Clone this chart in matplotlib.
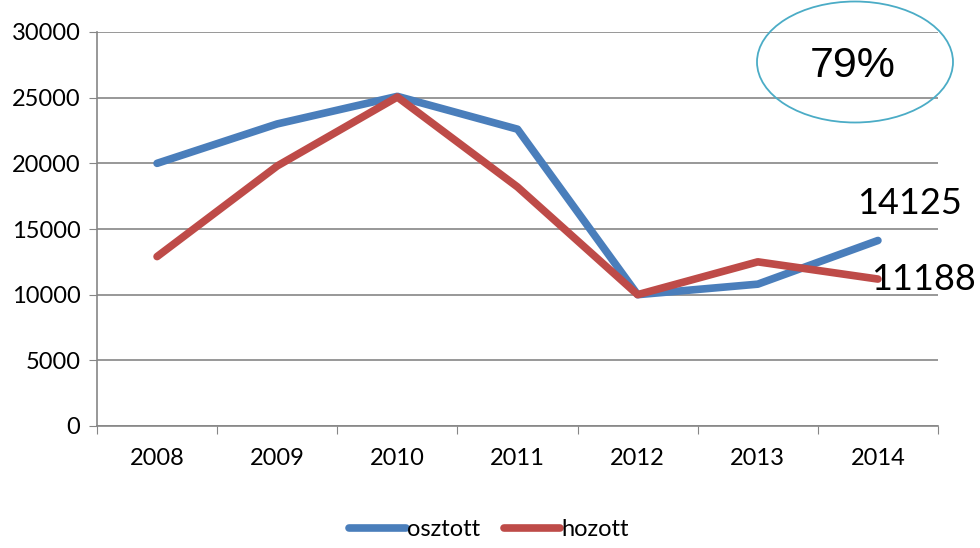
""" Line chart: osztott vs hozott, 2008-2014 """

import matplotlib.pyplot as plt
from matplotlib import patches

years = ["2008", "2009", "2010", "2011", "2012", "2013", "2014"]
osztott = [20000, 23000, 25100, 22600, 10000, 10800, 14125]
hozott = [12900, 19800, 25050, 18200, 10000, 12500, 11188]
yticks = [0, 5000, 10000, 15000, 20000, 25000, 30000]
ratio_text = "79%"

plt.rcParams['font.family'] = ['Lato', 'DejaVu Sans']

fig = plt.figure(figsize=(9.8, 5.48), dpi=100)
ax = fig.add_axes([97 / 980, 1 - 426 / 548, 841 / 980, 394 / 548])

x = range(len(years))
ax.plot(x, osztott, color='#4A7EBB', lw=5.5, solid_capstyle='round',
        solid_joinstyle='round', label='osztott', zorder=3)
ax.plot(x, hozott, color='#BE4B48', lw=5.5, solid_capstyle='round',
        solid_joinstyle='round', label='hozott', zorder=3)

ax.set_xlim(-0.5, len(years) - 0.5)
ax.set_ylim(0, 30000)
ax.set_yticks(yticks)
ax.set_yticklabels([str(v) for v in yticks], fontsize=17)
ax.set_xticks([i - 0.5 for i in range(len(years) + 1)], minor=False)
ax.set_xticklabels([])
ax.set_xticks(list(x), minor=True)
ax.set_xticklabels(years, minor=True, fontsize=17)
ax.tick_params(axis='x', which='minor', length=0, pad=16)
ax.tick_params(axis='x', which='major', length=6, color='#868686', direction='out')
ax.tick_params(axis='y', length=6, color='#868686', direction='out', pad=6)

ax.grid(axis='y', color='#868686', lw=1.2)
ax.set_axisbelow(True)
for side in ['top', 'right']:
    ax.spines[side].set_visible(False)
for side in ['left', 'bottom']:
    ax.spines[side].set_color('#868686')
    ax.spines[side].set_linewidth(1.2)

# end value labels
last = len(years) - 1
ax.annotate(str(osztott[-1]), (last, osztott[-1]), xytext=(-15, 15),
            textcoords='offset points', fontsize=26, ha='left', va='bottom')
ax.annotate(str(hozott[-1]), (last, hozott[-1]), xytext=(-5, 0),
            textcoords='offset points', fontsize=26, ha='left', va='center')

# ratio bubble
ell = patches.Ellipse((855 / 980, 1 - 62 / 548), 196 / 980, 121 / 548,
                      transform=fig.transFigure, fill=False,
                      edgecolor='#4BACC6', lw=1.3)
fig.add_artist(ell)
fig.text(853 / 980, 1 - 66 / 548, ratio_text, fontsize=31, ha='center',
         va='center', family='Liberation Sans')

fig.legend(loc='center', bbox_to_anchor=(489 / 980, 1 - 530 / 548), ncol=2,
           frameon=False, fontsize=17, handlelength=2.4, handletextpad=0.05,
           columnspacing=1.0)

plt.savefig('out.png', dpi=100)
